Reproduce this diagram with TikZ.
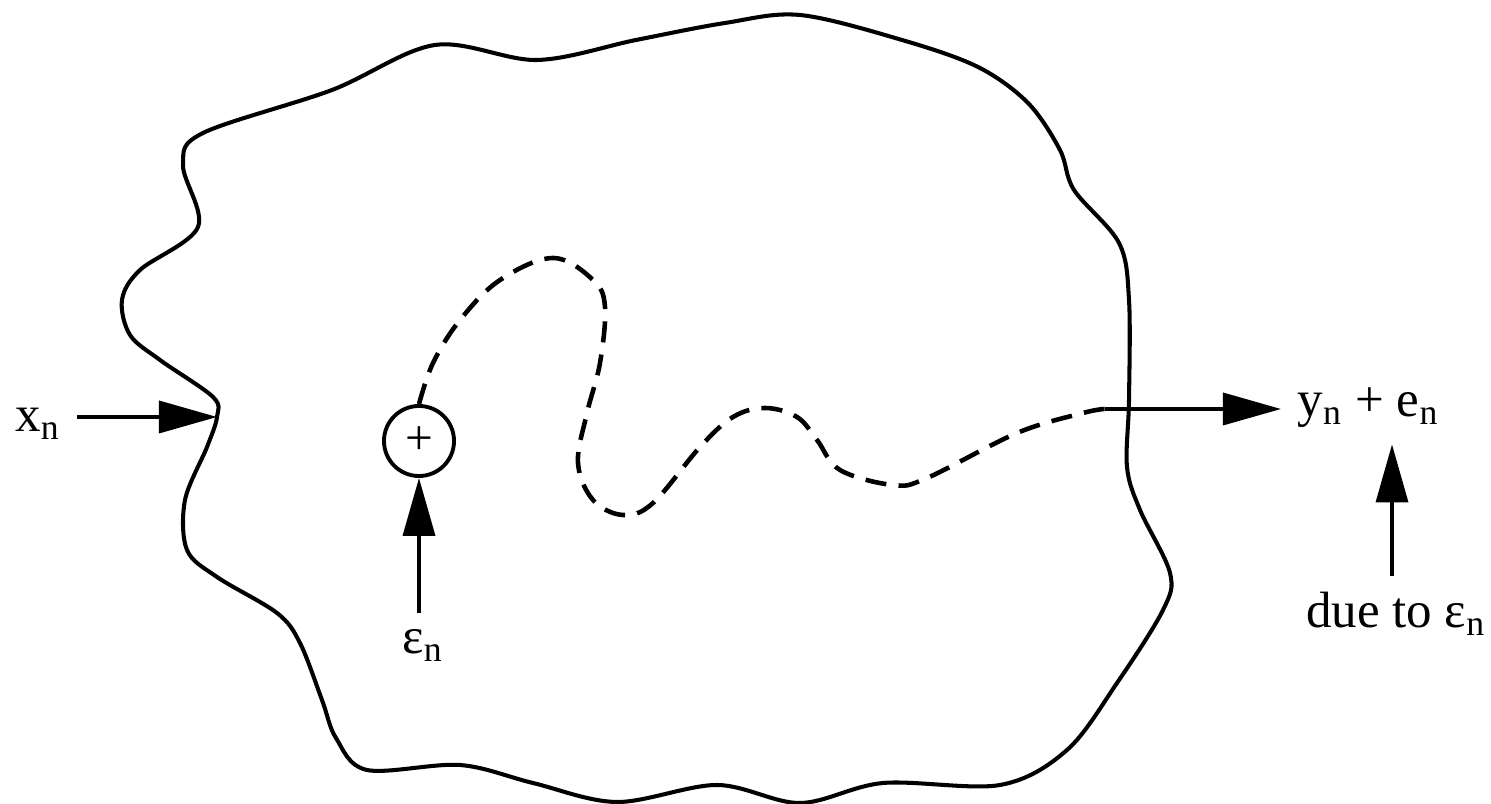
\documentclass[tikz,border=0pt]{standalone}
\usepackage{fontspec}
\setmainfont{Liberation Serif}
\usetikzlibrary{arrows.meta, positioning, calc}
\tikzset{
    sysboundary/.style={draw=black, line width=1.15pt, line join=round},
    syspath/.style={draw=black, line width=1.3pt, dash pattern=on 6pt off 3.5pt},
    sysarrow/.style={-{Triangle[length=5.8mm,width=3.2mm]}, line width=1pt},
    syslabel/.style={font=\fontsize{14.5}{17}\selectfont, inner sep=4.5pt},
    syssum/.style={circle, draw=black, line width=1.1pt, minimum size=7mm, inner sep=0pt, font=\fontsize{14}{16}\selectfont}
}

\begin{document}
\begin{tikzpicture}[x=0.01cm, y=-0.01cm]
\useasboundingbox (0,0) rectangle (1491,804);

% unknown system
\draw[sysboundary] plot[smooth cycle, tension=0.55] coordinates {
    (217,417) (207,447) (185,500) (187,550) (217,577) (277,613) (300,643)
    (322,700) (336,738) (367,770) (460,765) (533,783) (617,802) (717,785)
    (800,803) (883,783) (1000,785) (1067,750) (1117,683) (1163,610) (1170,573)
    (1140,510) (1127,467) (1129,400) (1129,300) (1119,243) (1074,190) (1060,150)
    (1028,103) (978,67) (902,40) (800,15) (725,23) (636,40) (537,60) (435,45)
    (332,90) (203,133) (183,165) (198,227) (140,270) (122,300) (130,335) (160,360) (213,397)
};

\coordinate (dent) at (217,417);
\coordinate (exit) at (1105,409);

\node[syslabel] (xn) at (38,424) {x\textsubscript{n}};
\node[syssum] (sum) at (419,441) {+};
\node[syslabel, anchor=north] (eps) at (423,613) {ε\textsubscript{n}};
\node[syslabel, anchor=west] (out) at (1281,408) {y\textsubscript{n} + e\textsubscript{n}};
\node[syslabel, anchor=north] (due) at (1396,576) {due to ε\textsubscript{n}};

% inputs
\draw[sysarrow] (xn.east |- dent) -- (dent);
\draw[sysarrow] (eps.north -| sum) -- (sum);

% error propagation
\draw[syspath] plot[smooth, tension=0.6] coordinates {
    (sum.north) (433,363) (460,320) (500,280) (553,258) (593,280) (605,307)
    (600,363) (587,413) (578,463) (593,500) (623,515) (653,503) (700,447)
    (733,417) (765,408) (797,417) (817,440) (840,470) (893,485) (927,478)
    (1017,433) (1083,413) (exit)
};
\draw[sysarrow] (exit) -- (exit -| out.west);
\draw[sysarrow] (due.north -| 1392,0) -- (out.south -| 1392,0);

\end{tikzpicture}
\end{document}
